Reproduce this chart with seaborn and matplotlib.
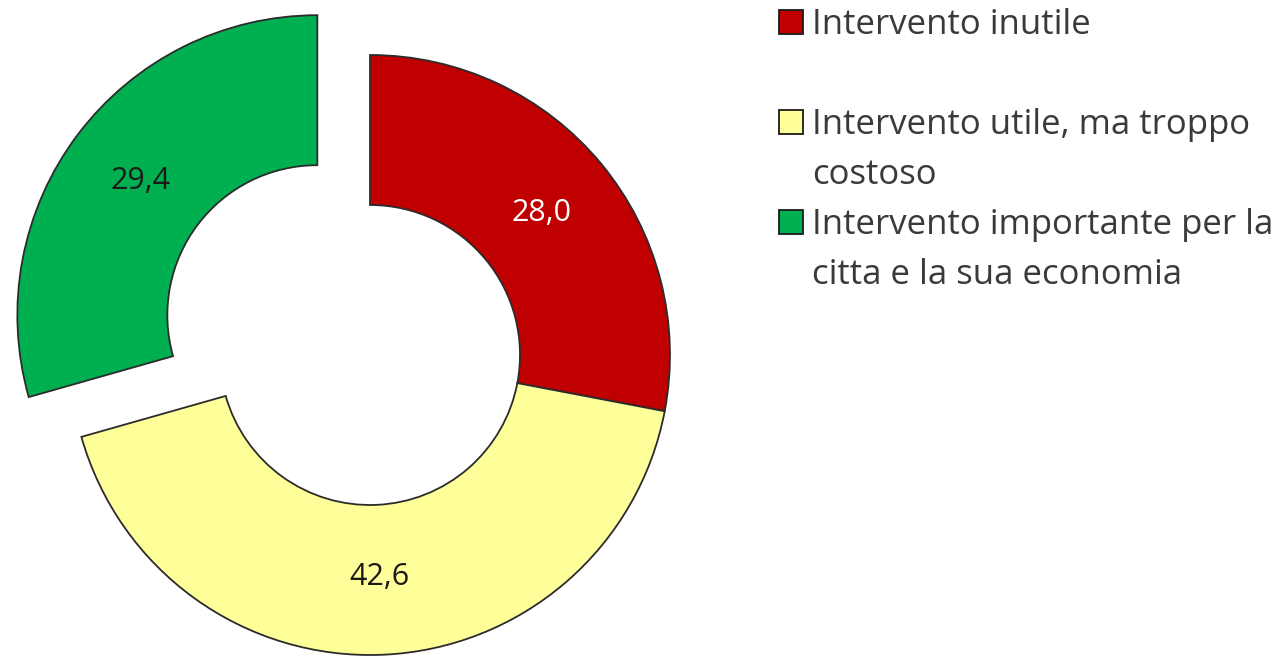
import matplotlib
matplotlib.use("Agg")
import matplotlib.pyplot as plt
from matplotlib.patches import Rectangle
import seaborn as sns

categories = ["Intervento inutile",
              "Intervento utile, ma troppo\ncostoso",
              "Intervento importante per la\ncitta e la sua economia"]
values = [28.0, 42.6, 29.4]
colors = ["#C00000", "#FFFF99", "#00B050"]
label_colors = ["white", "#1a1a1a", "#1a1a1a"]
explode = [0, 0, 0.22]

sns.set_theme(style="white")
plt.rcParams['font.family'] = ['Open Sans', 'DejaVu Sans']

W, H = 1287, 656
fig = plt.figure(figsize=(W / 100, H / 100), dpi=100)
ax = fig.add_axes([0, 0, 1, 1])

fmt = lambda p: f"{p:.1f}".replace(".", ",")
wedges, texts, autotexts = ax.pie(
    values, colors=colors, explode=explode, startangle=90, counterclock=False,
    radius=1.0, autopct=fmt, pctdistance=0.74,
    wedgeprops=dict(width=0.5, edgecolor="#2b2b2b", linewidth=1.3),
    textprops=dict(fontsize=22))
for t, c in zip(autotexts, label_colors):
    t.set_color(c)

# map center to pixel (370, 355 from top), radius 300 px
cx, cy, r = 370, 355, 300
ax.set_xlim(-cx / r, (W - cx) / r)
ax.set_ylim(-(H - cy) / r, cy / r)
ax.set_aspect("auto")
ax.axis("off")

# manual legend (square aligned with the first text line)
legend_rows = [22, 122, 222]  # pixel y centre of first line
line_gap = 50
for lab, col, y in zip(categories, colors, legend_rows):
    sq = 24
    fig.patches.append(Rectangle(((779) / W, 1 - (y + sq / 2) / H), sq / W, sq / H,
                                 transform=fig.transFigure, facecolor=col,
                                 edgecolor="#1a1a1a", linewidth=1.3))
    for i, line in enumerate(lab.split("\n")):
        fig.text(812 / W, 1 - (y + 12 + i * line_gap) / H, line, fontsize=25,
                 color="#3a3a3a", ha="left", va="baseline")

fig.savefig("out.png", dpi=100, facecolor="white")
